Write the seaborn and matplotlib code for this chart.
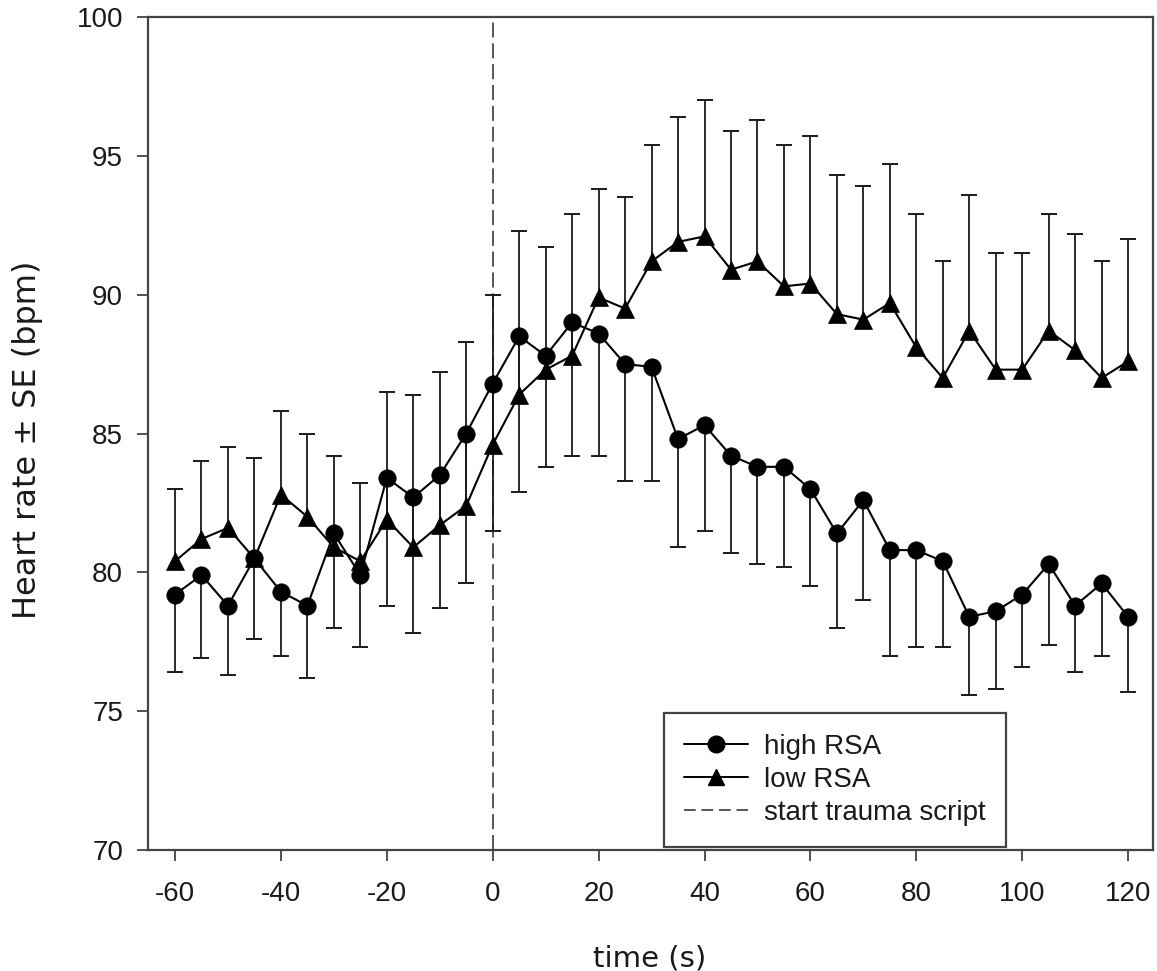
import numpy as np
import pandas as pd
import matplotlib
matplotlib.use("Agg")
import matplotlib.pyplot as plt
import seaborn as sns
from matplotlib.lines import Line2D

# ---------------- data ----------------
time = [-60, -55, -50, -45, -40, -35, -30, -25, -20, -15, -10, -5,
        0, 5, 10, 15, 20, 25, 30, 35, 40, 45, 50, 55, 60, 65, 70,
        75, 80, 85, 90, 95, 100, 105, 110, 115, 120]

high_mean = [79.2, 79.9, 78.8, 80.5, 79.3, 78.8, 81.4, 79.9, 83.4, 82.7, 83.5, 85.0,
             86.8, 88.5, 87.8, 89.0, 88.6, 87.5, 87.4,
             84.8, 85.3, 84.2, 83.8, 83.8, 83.0, 81.4, 82.6, 80.8, 80.8, 80.4,
             78.4, 78.6, 79.2, 80.3, 78.8, 79.6, 78.4]
high_lower = [76.4, 76.9, 76.3, 77.6, 77.0, 76.2, 78.0, 77.3, 78.8, 77.8, 78.7, 79.6,
              81.5, 82.9, 83.8, 84.2, 84.2, 83.3, 83.3,
              80.9, 81.5, 80.7, 80.3, 80.2, 79.5, 78.0, 79.0, 77.0, 77.3, 77.3,
              75.6, 75.8, 76.6, 77.4, 76.4, 77.0, 75.7]

low_mean = [80.4, 81.2, 81.6, 80.5, 82.8, 82.0, 80.9, 80.4, 81.9, 80.9, 81.7, 82.4,
            84.6, 86.4, 87.3, 87.8, 89.9, 89.5, 91.2,
            91.9, 92.1, 90.9, 91.2, 90.3, 90.4, 89.3, 89.1, 89.7, 88.1, 87.0,
            88.7, 87.3, 87.3, 88.7, 88.0, 87.0, 87.6]
low_upper = [83.0, 84.0, 84.5, 84.1, 85.8, 85.0, 84.2, 83.2, 86.5, 86.4, 87.2, 88.3,
             90.0, 92.3, 91.7, 92.9, 93.8, 93.5, 95.4,
             96.4, 97.0, 95.9, 96.3, 95.4, 95.7, 94.3, 93.9, 94.7, 92.9, 91.2,
             93.6, 91.5, 91.5, 92.9, 92.2, 91.2, 92.0]

groups = ["high RSA", "low RSA"]
x_ticks = [-60, -40, -20, 0, 20, 40, 60, 80, 100, 120]
y_ticks = [70, 75, 80, 85, 90, 95, 100]
stimulus_onset = 0

# ---------------- style ----------------
sns.set_style("ticks")
plt.rcParams["font.family"] = ["Liberation Sans", "DejaVu Sans"]
plt.rcParams["axes.unicode_minus"] = False

INK = "#1a1a1a"
AX = "#444444"

fig = plt.figure(figsize=(11.57, 9.71), dpi=100)
ax = fig.add_axes([148 / 1157, 1 - 850 / 971, 1005 / 1157, 833 / 971])

df = pd.DataFrame({
    "time": time + time,
    "hr": high_mean + low_mean,
    "group": [groups[0]] * len(time) + [groups[1]] * len(time),
})

# dashed onset line
ax.axvline(stimulus_onset, color="#3a3a3a", lw=1.2, dashes=(9, 3.5), zorder=1)

# one-sided error bars
ax.vlines(time, high_lower, high_mean, color=INK, lw=1.3, zorder=2)
ax.plot(time, high_lower, ls="none", marker="_", ms=11, mew=1.4, color=INK, zorder=2)
ax.vlines(time, low_mean, low_upper, color=INK, lw=1.3, zorder=2)
ax.plot(time, low_upper, ls="none", marker="_", ms=11, mew=1.4, color=INK, zorder=2)

sns.lineplot(data=df, x="time", y="hr", style="group",
             markers={"high RSA": "o", "low RSA": "^"}, dashes=False,
             color="black", markersize=12.5, linewidth=1.5,
             markeredgecolor="black", markeredgewidth=0.5,
             legend=False, ax=ax, zorder=3)

ax.set_xlim(-65.1, 124.7)
ax.set_ylim(70, 100)
ax.set_xticks(x_ticks)
ax.set_yticks(y_ticks)

for s in ax.spines.values():
    s.set_visible(True)
    s.set_color(AX)
    s.set_linewidth(1.6)

ax.tick_params(axis="both", direction="out", length=8, width=1.3, color=AX,
               labelsize=20, labelcolor=INK)
ax.tick_params(axis="x", pad=14)
ax.tick_params(axis="y", pad=10)

ax.set_xlabel("time (s)", fontsize=21, family="DejaVu Sans", color=INK)
ax.xaxis.set_label_coords(0.4995, -0.113)
ax.set_ylabel("Heart rate \u00b1 SE (bpm)", fontsize=23, family="DejaVu Sans", color=INK)
ax.yaxis.set_label_coords(-0.1045, 0.493)

handles = [
    Line2D([], [], color="black", lw=1.4, marker="o", ms=12, label=groups[0]),
    Line2D([], [], color="black", lw=1.4, marker="^", ms=11, label=groups[1]),
    Line2D([], [], color="#3a3a3a", lw=1.2, dashes=(7, 3.5), label="start trauma script"),
]
leg = ax.legend(handles=handles, loc="lower left", bbox_to_anchor=(0.513, 0.004),
                frameon=True, fancybox=False, edgecolor=AX, framealpha=1,
                fontsize=20, handlelength=2.3, handletextpad=0.55,
                borderpad=0.75, labelspacing=0.25, borderaxespad=0)
leg.get_frame().set_linewidth(1.6)
for t in leg.get_texts():
    t.set_color(INK)

fig.savefig("out.png", dpi=100)
